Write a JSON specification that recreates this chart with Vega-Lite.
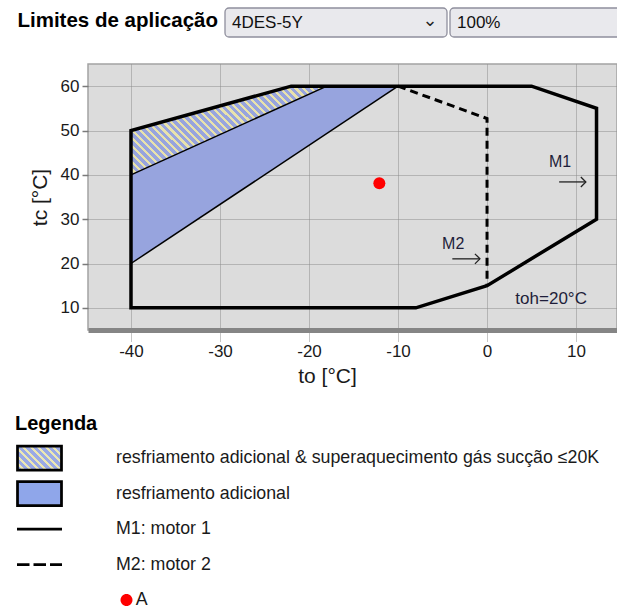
{
  "$schema": "https://vega.github.io/schema/vega-lite/v6.json",
  "width": 529,
  "height": 266,
  "autosize": {"type": "none"},
  "padding": {"left": 88, "top": 64, "right": 0, "bottom": 284},
  "config": {"font": "Liberation Sans"},
  "view": {"fill": "#dcdcdc", "stroke": "#a3a3a3", "strokeWidth": 1.5},
  "resolve": {"scale": {"x": "independent", "y": "independent"}, "axis": {"x": "independent", "y": "independent"}},
  "datasets": {
    "seletores": [
      {"rotulo": "Limites de aplicação", "seletor": "modelo", "valor": "4DES-5Y"},
      {"rotulo": "Limites de aplicação", "seletor": "carga", "valor": "100%"}
    ],
    "azul": [
      {"to": -40, "inferior": 20, "superior": 50},
      {"to": -22, "inferior": 44, "superior": 60},
      {"to": -18, "inferior": 49.33, "superior": 60},
      {"to": -10, "inferior": 60, "superior": 60}
    ],
    "hachura": [
      {"to": -40, "inferior": 40, "superior": 50},
      {"to": -22, "inferior": 56.36, "superior": 60},
      {"to": -18, "inferior": 60, "superior": 60}
    ],
    "linhas": [
      {"serie": "M1", "i": 0, "to": -40, "tc": 10},
      {"serie": "M1", "i": 1, "to": -40, "tc": 50},
      {"serie": "M1", "i": 2, "to": -22, "tc": 60},
      {"serie": "M1", "i": 3, "to": 5, "tc": 60},
      {"serie": "M1", "i": 4, "to": 12.3, "tc": 55},
      {"serie": "M1", "i": 5, "to": 12.3, "tc": 30},
      {"serie": "M1", "i": 6, "to": 0, "tc": 15},
      {"serie": "M1", "i": 7, "to": -8, "tc": 10},
      {"serie": "M1", "i": 8, "to": -40, "tc": 10},
      {"serie": "M2", "i": 0, "to": -10, "tc": 60},
      {"serie": "M2", "i": 1, "to": 0, "tc": 52.7},
      {"serie": "M2", "i": 2, "to": 0, "tc": 15},
      {"serie": "lim_azul", "i": 0, "to": -40, "tc": 20},
      {"serie": "lim_azul", "i": 1, "to": -10, "tc": 60},
      {"serie": "lim_hachura", "i": 0, "to": -40, "tc": 40},
      {"serie": "lim_hachura", "i": 1, "to": -18, "tc": 60}
    ],
    "rotulos": [
      {"texto": "M1", "to": 8.2, "tc": 42.9},
      {"texto": "M2", "to": -3.8, "tc": 24.4},
      {"texto": "toh=20°C", "to": 7.2, "tc": 12.0}
    ],
    "setas": [
      {"to": 8.1, "to2": 11.1, "tc": 38.4},
      {"to": -3.9, "to2": -0.8, "tc": 21.05}
    ],
    "pontos": [
      {"item": "A", "to": -12.1, "tc": 38.1}
    ]
  },
  "layer": [
    {
      "encoding": {
        "x": {"field": "to", "type": "quantitative", "scale": {"domain": [-44.83, 14.6], "nice": false, "zero": false},
          "axis": {"title": "to [°C]", "values": [-40, -30, -20, -10, 0, 10], "labelExpr": "'' + datum.value", "grid": true, "gridColor": "#8c8c8c", "gridDash": [1, 1], "gridWidth": 1,
            "domain": true, "domainColor": "#858585", "domainWidth": 5,
            "ticks": true, "tickColor": "#8c8c8c", "tickDash": [1, 1], "tickSize": 12,
            "labelFontSize": 17, "labelColor": "#1a1a1a", "labelPadding": 1,
            "titleFontSize": 21, "titleFontWeight": "normal", "titleColor": "#1a1a1a", "titleX": 239, "titlePadding": 6,
            "encode": {"domain": {"x": {"value": 5}, "y": {"value": 2.5}}}}},
        "y": {"field": "tc", "type": "quantitative", "scale": {"domain": [5, 65], "nice": false, "zero": false},
          "axis": {"title": "tc [°C]", "values": [10, 20, 30, 40, 50, 60], "grid": true, "gridColor": "#8c8c8c", "gridDash": [1, 1], "gridWidth": 1,
            "domain": false, "ticks": true, "tickColor": "#7a7a7a", "tickSize": 6, "tickWidth": 1.5,
            "labelFontSize": 17, "labelColor": "#1a1a1a", "labelPadding": 3,
            "titleFontSize": 21, "titleFontWeight": "normal", "titleColor": "#1a1a1a", "titlePadding": 10}}
      },
      "layer": [
        {"data": {"name": "azul"}, "mark": {"type": "area", "fill": "#97a4de", "opacity": 1},
          "encoding": {"y": {"field": "inferior", "type": "quantitative"}, "y2": {"field": "superior"}}},
        {"data": {"name": "hachura"},
          "mark": {"type": "area", "opacity": 1, "fill": {"gradient": "linear", "x1": 0, "y1": 1, "x2": 1.2055, "y2": 0.4525, "stops": [
            {"offset": 0, "color": "#97a4de"},
            {"offset": 0.0167, "color": "#97a4de"}, {"offset": 0.0167, "color": "#e8e2ac"}, {"offset": 0.0278, "color": "#e8e2ac"}, {"offset": 0.0278, "color": "#97a4de"},
            {"offset": 0.0444, "color": "#97a4de"}, {"offset": 0.0444, "color": "#e8e2ac"}, {"offset": 0.0556, "color": "#e8e2ac"}, {"offset": 0.0556, "color": "#97a4de"},
            {"offset": 0.0722, "color": "#97a4de"}, {"offset": 0.0722, "color": "#e8e2ac"}, {"offset": 0.0833, "color": "#e8e2ac"}, {"offset": 0.0833, "color": "#97a4de"},
            {"offset": 0.1, "color": "#97a4de"}, {"offset": 0.1, "color": "#e8e2ac"}, {"offset": 0.1111, "color": "#e8e2ac"}, {"offset": 0.1111, "color": "#97a4de"},
            {"offset": 0.1278, "color": "#97a4de"}, {"offset": 0.1278, "color": "#e8e2ac"}, {"offset": 0.1389, "color": "#e8e2ac"}, {"offset": 0.1389, "color": "#97a4de"},
            {"offset": 0.1556, "color": "#97a4de"}, {"offset": 0.1556, "color": "#e8e2ac"}, {"offset": 0.1667, "color": "#e8e2ac"}, {"offset": 0.1667, "color": "#97a4de"},
            {"offset": 0.1833, "color": "#97a4de"}, {"offset": 0.1833, "color": "#e8e2ac"}, {"offset": 0.1944, "color": "#e8e2ac"}, {"offset": 0.1944, "color": "#97a4de"},
            {"offset": 0.2111, "color": "#97a4de"}, {"offset": 0.2111, "color": "#e8e2ac"}, {"offset": 0.2222, "color": "#e8e2ac"}, {"offset": 0.2222, "color": "#97a4de"},
            {"offset": 0.2389, "color": "#97a4de"}, {"offset": 0.2389, "color": "#e8e2ac"}, {"offset": 0.25, "color": "#e8e2ac"}, {"offset": 0.25, "color": "#97a4de"},
            {"offset": 0.2667, "color": "#97a4de"}, {"offset": 0.2667, "color": "#e8e2ac"}, {"offset": 0.2778, "color": "#e8e2ac"}, {"offset": 0.2778, "color": "#97a4de"},
            {"offset": 0.2944, "color": "#97a4de"}, {"offset": 0.2944, "color": "#e8e2ac"}, {"offset": 0.3056, "color": "#e8e2ac"}, {"offset": 0.3056, "color": "#97a4de"},
            {"offset": 0.3222, "color": "#97a4de"}, {"offset": 0.3222, "color": "#e8e2ac"}, {"offset": 0.3333, "color": "#e8e2ac"}, {"offset": 0.3333, "color": "#97a4de"},
            {"offset": 0.35, "color": "#97a4de"}, {"offset": 0.35, "color": "#e8e2ac"}, {"offset": 0.3611, "color": "#e8e2ac"}, {"offset": 0.3611, "color": "#97a4de"},
            {"offset": 0.3778, "color": "#97a4de"}, {"offset": 0.3778, "color": "#e8e2ac"}, {"offset": 0.3889, "color": "#e8e2ac"}, {"offset": 0.3889, "color": "#97a4de"},
            {"offset": 0.4056, "color": "#97a4de"}, {"offset": 0.4056, "color": "#e8e2ac"}, {"offset": 0.4167, "color": "#e8e2ac"}, {"offset": 0.4167, "color": "#97a4de"},
            {"offset": 0.4333, "color": "#97a4de"}, {"offset": 0.4333, "color": "#e8e2ac"}, {"offset": 0.4444, "color": "#e8e2ac"}, {"offset": 0.4444, "color": "#97a4de"},
            {"offset": 0.4611, "color": "#97a4de"}, {"offset": 0.4611, "color": "#e8e2ac"}, {"offset": 0.4722, "color": "#e8e2ac"}, {"offset": 0.4722, "color": "#97a4de"},
            {"offset": 0.4889, "color": "#97a4de"}, {"offset": 0.4889, "color": "#e8e2ac"}, {"offset": 0.5, "color": "#e8e2ac"}, {"offset": 0.5, "color": "#97a4de"},
            {"offset": 0.5167, "color": "#97a4de"}, {"offset": 0.5167, "color": "#e8e2ac"}, {"offset": 0.5278, "color": "#e8e2ac"}, {"offset": 0.5278, "color": "#97a4de"},
            {"offset": 0.5444, "color": "#97a4de"}, {"offset": 0.5444, "color": "#e8e2ac"}, {"offset": 0.5556, "color": "#e8e2ac"}, {"offset": 0.5556, "color": "#97a4de"},
            {"offset": 0.5722, "color": "#97a4de"}, {"offset": 0.5722, "color": "#e8e2ac"}, {"offset": 0.5833, "color": "#e8e2ac"}, {"offset": 0.5833, "color": "#97a4de"},
            {"offset": 0.6, "color": "#97a4de"}, {"offset": 0.6, "color": "#e8e2ac"}, {"offset": 0.6111, "color": "#e8e2ac"}, {"offset": 0.6111, "color": "#97a4de"},
            {"offset": 0.6278, "color": "#97a4de"}, {"offset": 0.6278, "color": "#e8e2ac"}, {"offset": 0.6389, "color": "#e8e2ac"}, {"offset": 0.6389, "color": "#97a4de"},
            {"offset": 0.6556, "color": "#97a4de"}, {"offset": 0.6556, "color": "#e8e2ac"}, {"offset": 0.6667, "color": "#e8e2ac"}, {"offset": 0.6667, "color": "#97a4de"},
            {"offset": 0.6833, "color": "#97a4de"}, {"offset": 0.6833, "color": "#e8e2ac"}, {"offset": 0.6944, "color": "#e8e2ac"}, {"offset": 0.6944, "color": "#97a4de"},
            {"offset": 0.7111, "color": "#97a4de"}, {"offset": 0.7111, "color": "#e8e2ac"}, {"offset": 0.7222, "color": "#e8e2ac"}, {"offset": 0.7222, "color": "#97a4de"},
            {"offset": 0.7389, "color": "#97a4de"}, {"offset": 0.7389, "color": "#e8e2ac"}, {"offset": 0.75, "color": "#e8e2ac"}, {"offset": 0.75, "color": "#97a4de"},
            {"offset": 0.7667, "color": "#97a4de"}, {"offset": 0.7667, "color": "#e8e2ac"}, {"offset": 0.7778, "color": "#e8e2ac"}, {"offset": 0.7778, "color": "#97a4de"},
            {"offset": 0.7944, "color": "#97a4de"}, {"offset": 0.7944, "color": "#e8e2ac"}, {"offset": 0.8056, "color": "#e8e2ac"}, {"offset": 0.8056, "color": "#97a4de"},
            {"offset": 0.8222, "color": "#97a4de"}, {"offset": 0.8222, "color": "#e8e2ac"}, {"offset": 0.8333, "color": "#e8e2ac"}, {"offset": 0.8333, "color": "#97a4de"},
            {"offset": 0.85, "color": "#97a4de"}, {"offset": 0.85, "color": "#e8e2ac"}, {"offset": 0.8611, "color": "#e8e2ac"}, {"offset": 0.8611, "color": "#97a4de"},
            {"offset": 0.8778, "color": "#97a4de"}, {"offset": 0.8778, "color": "#e8e2ac"}, {"offset": 0.8889, "color": "#e8e2ac"}, {"offset": 0.8889, "color": "#97a4de"},
            {"offset": 0.9056, "color": "#97a4de"}, {"offset": 0.9056, "color": "#e8e2ac"}, {"offset": 0.9167, "color": "#e8e2ac"}, {"offset": 0.9167, "color": "#97a4de"},
            {"offset": 0.9333, "color": "#97a4de"}, {"offset": 0.9333, "color": "#e8e2ac"}, {"offset": 0.9444, "color": "#e8e2ac"}, {"offset": 0.9444, "color": "#97a4de"},
            {"offset": 0.9611, "color": "#97a4de"}, {"offset": 0.9611, "color": "#e8e2ac"}, {"offset": 0.9722, "color": "#e8e2ac"}, {"offset": 0.9722, "color": "#97a4de"},
            {"offset": 0.9889, "color": "#97a4de"}, {"offset": 0.9889, "color": "#e8e2ac"}, {"offset": 1, "color": "#e8e2ac"}
          ]}},
          "encoding": {"y": {"field": "inferior", "type": "quantitative"}, "y2": {"field": "superior"}}},
        {"data": {"name": "linhas"}, "transform": [{"filter": "datum.serie === 'lim_azul' || datum.serie === 'lim_hachura'"}],
          "mark": {"type": "line", "color": "#000", "strokeWidth": 1.5},
          "encoding": {"detail": {"field": "serie"}, "order": {"field": "i", "type": "quantitative"}}},
        {"data": {"name": "linhas"}, "transform": [{"filter": "datum.serie === 'M1'"}],
          "mark": {"type": "line", "color": "#000", "strokeWidth": 3.5, "strokeCap": "square", "strokeJoin": "miter"},
          "encoding": {"order": {"field": "i", "type": "quantitative"}}},
        {"data": {"name": "linhas"}, "transform": [{"filter": "datum.serie === 'M2'"}],
          "mark": {"type": "line", "color": "#000", "strokeWidth": 3, "strokeDash": [8, 5]},
          "encoding": {"order": {"field": "i", "type": "quantitative"}}},
        {"data": {"name": "rotulos"}, "transform": [{"filter": "datum.texto !== 'toh=20°C'"}],
          "mark": {"type": "text", "fontSize": 16, "color": "#1e1e3a"},
          "encoding": {"text": {"field": "texto"}}},
        {"data": {"name": "rotulos"}, "transform": [{"filter": "datum.texto === 'toh=20°C'"}],
          "mark": {"type": "text", "fontSize": 17, "color": "#1e1e3a"},
          "encoding": {"text": {"field": "texto"}}},
        {"data": {"name": "setas"}, "mark": {"type": "rule", "color": "#222", "strokeWidth": 1.3},
          "encoding": {"x2": {"field": "to2"}}},
        {"data": {"name": "setas"}, "mark": {"type": "point", "shape": "M-1,-1L0,0L-1,1", "size": 100, "filled": false, "stroke": "#222", "strokeWidth": 1.3, "opacity": 1},
          "encoding": {"x": {"field": "to2", "type": "quantitative"}}},
        {"data": {"name": "pontos"},
          "mark": {"type": "point", "shape": "circle", "filled": true, "color": "#ff0000", "size": 144, "opacity": 1}},
        {"data": {"name": "pontos"},
          "mark": {"type": "point", "filled": true, "size": 576, "opacity": 0},
          "encoding": {
            "shape": {"field": "item", "type": "nominal",
              "scale": {
                "domain": ["resfriamento adicional & superaquecimento gás sucção ≤20K", "resfriamento adicional", "M1: motor 1", "M2: motor 2", "A"],
                "range": ["M-1.833,-1H1.833V1H-1.833Z", "M-1.833,-1H1.833V1H-1.833Z", "M-1.875,0H1.875", "M-1.875,0H1.875", "M6.75,0A0.5,0.5,0,1,1,7.75,0A0.5,0.5,0,1,1,6.75,0Z"]
              },
              "legend": {
                "orient": "none", "legendX": -73, "legendY": 350, "direction": "vertical",
                "title": "Legenda", "titleFontSize": 20, "titleFontWeight": "bold", "titleColor": "#000", "titlePadding": 10,
                "padding": 0, "symbolSize": 576, "symbolOpacity": 1, "symbolStrokeWidth": 2.75, "symbolOffset": 11,
                "clipHeight": 28, "rowPadding": 7.5, "labelOffset": 63, "labelFontSize": 17.8, "labelColor": "#1a1a1a", "labelLimit": 600,
                "labelExpr": "datum.label === 'A' ? '\u200b\u00a0\u00a0\u00a0\u00a0A' : datum.label"
              }
            },
            "fill": {"field": "item", "type": "nominal",
              "scale": {
                "domain": ["resfriamento adicional & superaquecimento gás sucção ≤20K", "resfriamento adicional", "M1: motor 1", "M2: motor 2", "A"],
                "range": [
                  {"expr": "{gradient: 'linear', x1: 0, y1: 1, x2: 1.191, y2: 0.35, stops: [{offset: 0, color: '#9aa9e6'}, {offset: 0.0667, color: '#9aa9e6'}, {offset: 0.0667, color: '#ece7b4'}, {offset: 0.1111, color: '#ece7b4'}, {offset: 0.1111, color: '#9aa9e6'}, {offset: 0.1778, color: '#9aa9e6'}, {offset: 0.1778, color: '#ece7b4'}, {offset: 0.2222, color: '#ece7b4'}, {offset: 0.2222, color: '#9aa9e6'}, {offset: 0.2889, color: '#9aa9e6'}, {offset: 0.2889, color: '#ece7b4'}, {offset: 0.3333, color: '#ece7b4'}, {offset: 0.3333, color: '#9aa9e6'}, {offset: 0.4, color: '#9aa9e6'}, {offset: 0.4, color: '#ece7b4'}, {offset: 0.4444, color: '#ece7b4'}, {offset: 0.4444, color: '#9aa9e6'}, {offset: 0.5111, color: '#9aa9e6'}, {offset: 0.5111, color: '#ece7b4'}, {offset: 0.5556, color: '#ece7b4'}, {offset: 0.5556, color: '#9aa9e6'}, {offset: 0.6222, color: '#9aa9e6'}, {offset: 0.6222, color: '#ece7b4'}, {offset: 0.6667, color: '#ece7b4'}, {offset: 0.6667, color: '#9aa9e6'}, {offset: 0.7333, color: '#9aa9e6'}, {offset: 0.7333, color: '#ece7b4'}, {offset: 0.7778, color: '#ece7b4'}, {offset: 0.7778, color: '#9aa9e6'}, {offset: 0.8444, color: '#9aa9e6'}, {offset: 0.8444, color: '#ece7b4'}, {offset: 0.8889, color: '#ece7b4'}, {offset: 0.8889, color: '#9aa9e6'}, {offset: 0.9556, color: '#9aa9e6'}, {offset: 0.9556, color: '#ece7b4'}, {offset: 1, color: '#ece7b4'}]}"},
                  "#8fa6ea", "transparent", "transparent", "#ff0000"
                ]
              },
              "legend": {
                "orient": "none", "legendX": -73, "legendY": 350, "direction": "vertical",
                "title": "Legenda", "titleFontSize": 20, "titleFontWeight": "bold", "titleColor": "#000", "titlePadding": 10,
                "padding": 0, "symbolSize": 576, "symbolOpacity": 1, "symbolStrokeWidth": 2.75, "symbolOffset": 11,
                "clipHeight": 28, "rowPadding": 7.5, "labelOffset": 63, "labelFontSize": 17.8, "labelColor": "#1a1a1a", "labelLimit": 600,
                "labelExpr": "datum.label === 'A' ? '\u200b\u00a0\u00a0\u00a0\u00a0A' : datum.label"
              }
            },
            "stroke": {"field": "item", "type": "nominal",
              "scale": {
                "domain": ["resfriamento adicional & superaquecimento gás sucção ≤20K", "resfriamento adicional", "M1: motor 1", "M2: motor 2", "A"],
                "range": ["#000000", "#000000", "#000000", "#000000", "transparent"]
              },
              "legend": {
                "orient": "none", "legendX": -73, "legendY": 350, "direction": "vertical",
                "title": "Legenda", "titleFontSize": 20, "titleFontWeight": "bold", "titleColor": "#000", "titlePadding": 10,
                "padding": 0, "symbolSize": 576, "symbolOpacity": 1, "symbolStrokeWidth": 2.75, "symbolOffset": 11,
                "clipHeight": 28, "rowPadding": 7.5, "labelOffset": 63, "labelFontSize": 17.8, "labelColor": "#1a1a1a", "labelLimit": 600,
                "labelExpr": "datum.label === 'A' ? '\u200b\u00a0\u00a0\u00a0\u00a0A' : datum.label"
              }
            },
            "strokeDash": {"field": "item", "type": "nominal",
              "scale": {
                "domain": ["resfriamento adicional & superaquecimento gás sucção ≤20K", "resfriamento adicional", "M1: motor 1", "M2: motor 2", "A"],
                "range": [[1, 0], [1, 0], [1, 0], [12.5, 4], [1, 0]]
              },
              "legend": {
                "orient": "none", "legendX": -73, "legendY": 350, "direction": "vertical",
                "title": "Legenda", "titleFontSize": 20, "titleFontWeight": "bold", "titleColor": "#000", "titlePadding": 10,
                "padding": 0, "symbolSize": 576, "symbolOpacity": 1, "symbolStrokeWidth": 2.75, "symbolOffset": 11,
                "clipHeight": 28, "rowPadding": 7.5, "labelOffset": 63, "labelFontSize": 17.8, "labelColor": "#1a1a1a", "labelLimit": 600,
                "labelExpr": "datum.label === 'A' ? '\u200b\u00a0\u00a0\u00a0\u00a0A' : datum.label"
              }
            }
          }}
      ]
    },
    {
      "data": {"name": "seletores"},
      "encoding": {
        "x": {"field": "seletor", "type": "nominal", "sort": null, "axis": null, "scale": {"range": [137, 584], "paddingInner": 0.0133, "paddingOuter": 0}},
        "y": {"field": "rotulo", "type": "nominal", "axis": null, "scale": {"range": [-56, -27], "paddingInner": 0, "paddingOuter": 0}}
      },
      "layer": [
        {"mark": {"type": "rect", "cornerRadius": 4, "fill": "#e9e9ed", "stroke": "#8f8f9d", "strokeWidth": 1.3}},
        {"mark": {"type": "text", "align": "left", "dx": 7, "fontSize": 17, "color": "#111"},
          "encoding": {"x": {"field": "seletor", "type": "nominal", "sort": null, "bandPosition": 0}, "text": {"field": "valor"}}},
        {"transform": [{"filter": "datum.seletor === 'modelo'"}],
          "mark": {"type": "text", "align": "center", "dx": -17, "dy": -2, "fontSize": 18, "font": "DejaVu Sans", "text": "⌄", "color": "#222"},
          "encoding": {"x": {"field": "seletor", "type": "nominal", "sort": null, "bandPosition": 1}}},
        {"transform": [{"filter": "datum.seletor === 'modelo'"}],
          "mark": {"type": "text", "align": "right", "dx": -7, "dy": -2, "fontSize": 20.5, "fontWeight": "bold", "color": "#000"},
          "encoding": {"x": {"field": "seletor", "type": "nominal", "sort": null, "bandPosition": 0}, "text": {"field": "rotulo"}}}
      ]
    }
  ]
}
